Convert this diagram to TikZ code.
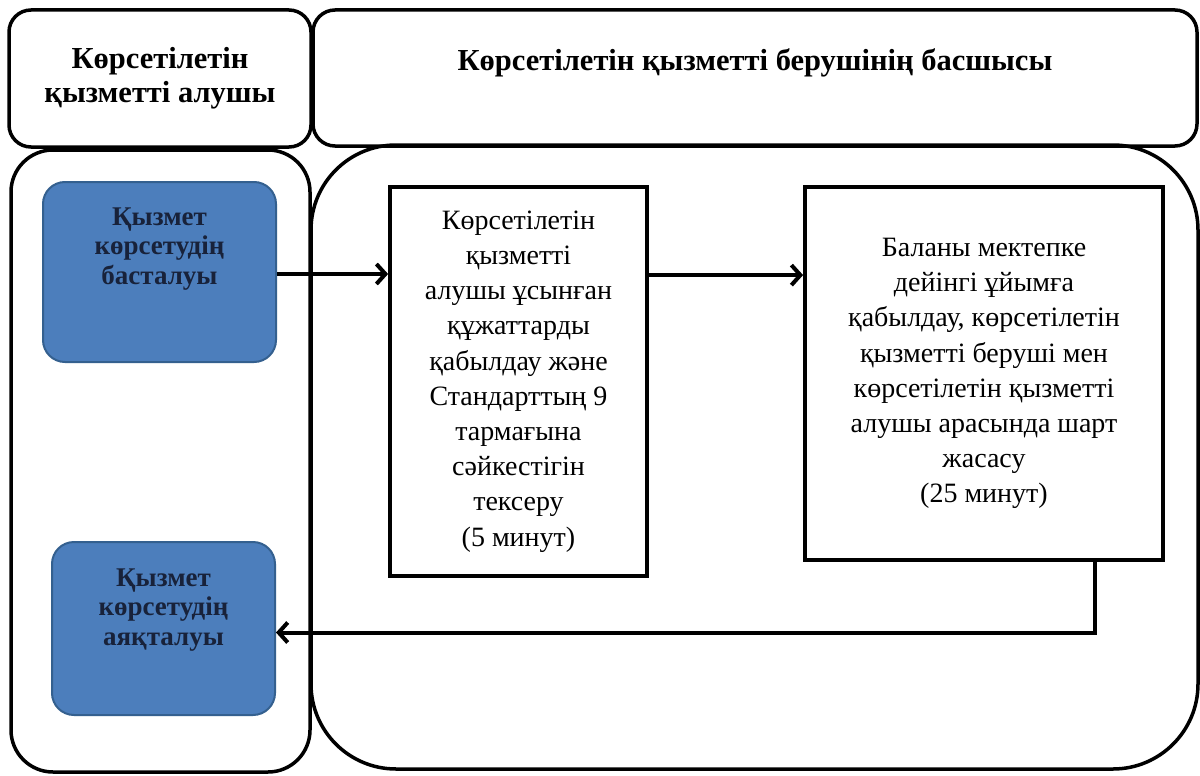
\documentclass[tikz,border=0pt]{standalone}
\usepackage{fontspec}
\setmainfont{Liberation Serif}
\usetikzlibrary{arrows.meta,calc}
\definecolor{boxblue}{HTML}{4C7EBC}
\definecolor{boxblueedge}{HTML}{34608F}
\definecolor{navytext}{HTML}{18223A}
\begin{document}
\begin{tikzpicture}[x=1pt,y=-1pt,
  lane/.style={draw=black,line width=3.5pt,rounded corners=22pt,inner sep=0pt},
  headtext/.style={font=\bfseries\fontsize{30.5}{34}\selectfont,align=center,inner sep=0pt},
  startbox/.style={draw=boxblueedge,fill=boxblue,line width=2pt,rounded corners=22pt,inner sep=0pt},
  bluetext/.style={font=\bfseries\fontsize{27}{29.5}\selectfont,text=navytext,align=center,inner sep=0pt},
  procbox/.style={draw=black,line width=3.8pt,inner sep=0pt,align=center,font=\fontsize{28}{35.2}\selectfont},
  arr/.style={draw=black,line width=4pt,-{Straight Barb[length=9pt,width=20pt]}}
]
\fill[white] (0,0) rectangle (1200,776);
\useasboundingbox (0,0) rectangle (1200,776);

% swimlane headers
\node[lane,minimum width=302pt,minimum height=137pt,headtext] (hl) at (160,78.5) {Көрсетілетін\\қызметті алушы};
\node[lane,minimum width=884pt,minimum height=136pt] (hr) at (755,78) {};
\node[headtext] (hrt) at (755,63) {Көрсетілетін қызметті берушінің басшысы};

% swimlane bodies
\node[lane,rounded corners=42pt,minimum width=299pt,minimum height=622pt] (bl) at (160.5,461) {};
\node[lane,rounded corners=85pt,minimum width=887pt,minimum height=624pt] (br) at (754.5,457) {};

% start / end boxes
\node[startbox,minimum width=233pt,minimum height=180pt] (b1) at (159.5,272) {};
\node[bluetext] (b1t) at (159.5,249) {Қызмет\\көрсетудің\\басталуы};
\node[startbox,minimum width=223pt,minimum height=173pt] (b2) at (163.5,628.5) {};
\node[bluetext] (b2t) at (163.5,610) {Қызмет\\көрсетудің\\аяқталуы};

% process boxes
\node[procbox,minimum width=257pt,minimum height=389pt] (p1) at (518.5,381.5)
  {Көрсетілетін\\қызметті\\алушы ұсынған\\құжаттарды\\қабылдау және\\Стандарттың 9\\тармағына\\сәйкестігін\\тексеру\\(5 минут)};
\node[procbox,minimum width=358pt,minimum height=373pt] (p2) at (984,373.5)
  {Баланы мектепке\\дейінгі ұйымға\\қабылдау, көрсетілетін\\қызметті беруші мен\\көрсетілетін қызметті\\алушы арасында шарт\\жасасу\\(25 минут)};

% connectors
\draw[arr] ([yshift=-2pt]b1.east) -- ([yshift=-2pt]b1.east -| p1.west);
\coordinate (a2s) at ($(p1.north east)+(0,90)$);
\draw[arr] (a2s) -- (a2s -| p2.west);
\coordinate (c1) at ($(p2.south east)+(-70,0)$);
\draw[arr] (c1) |- ([yshift=-4pt]b2.east);
\end{tikzpicture}
\end{document}
